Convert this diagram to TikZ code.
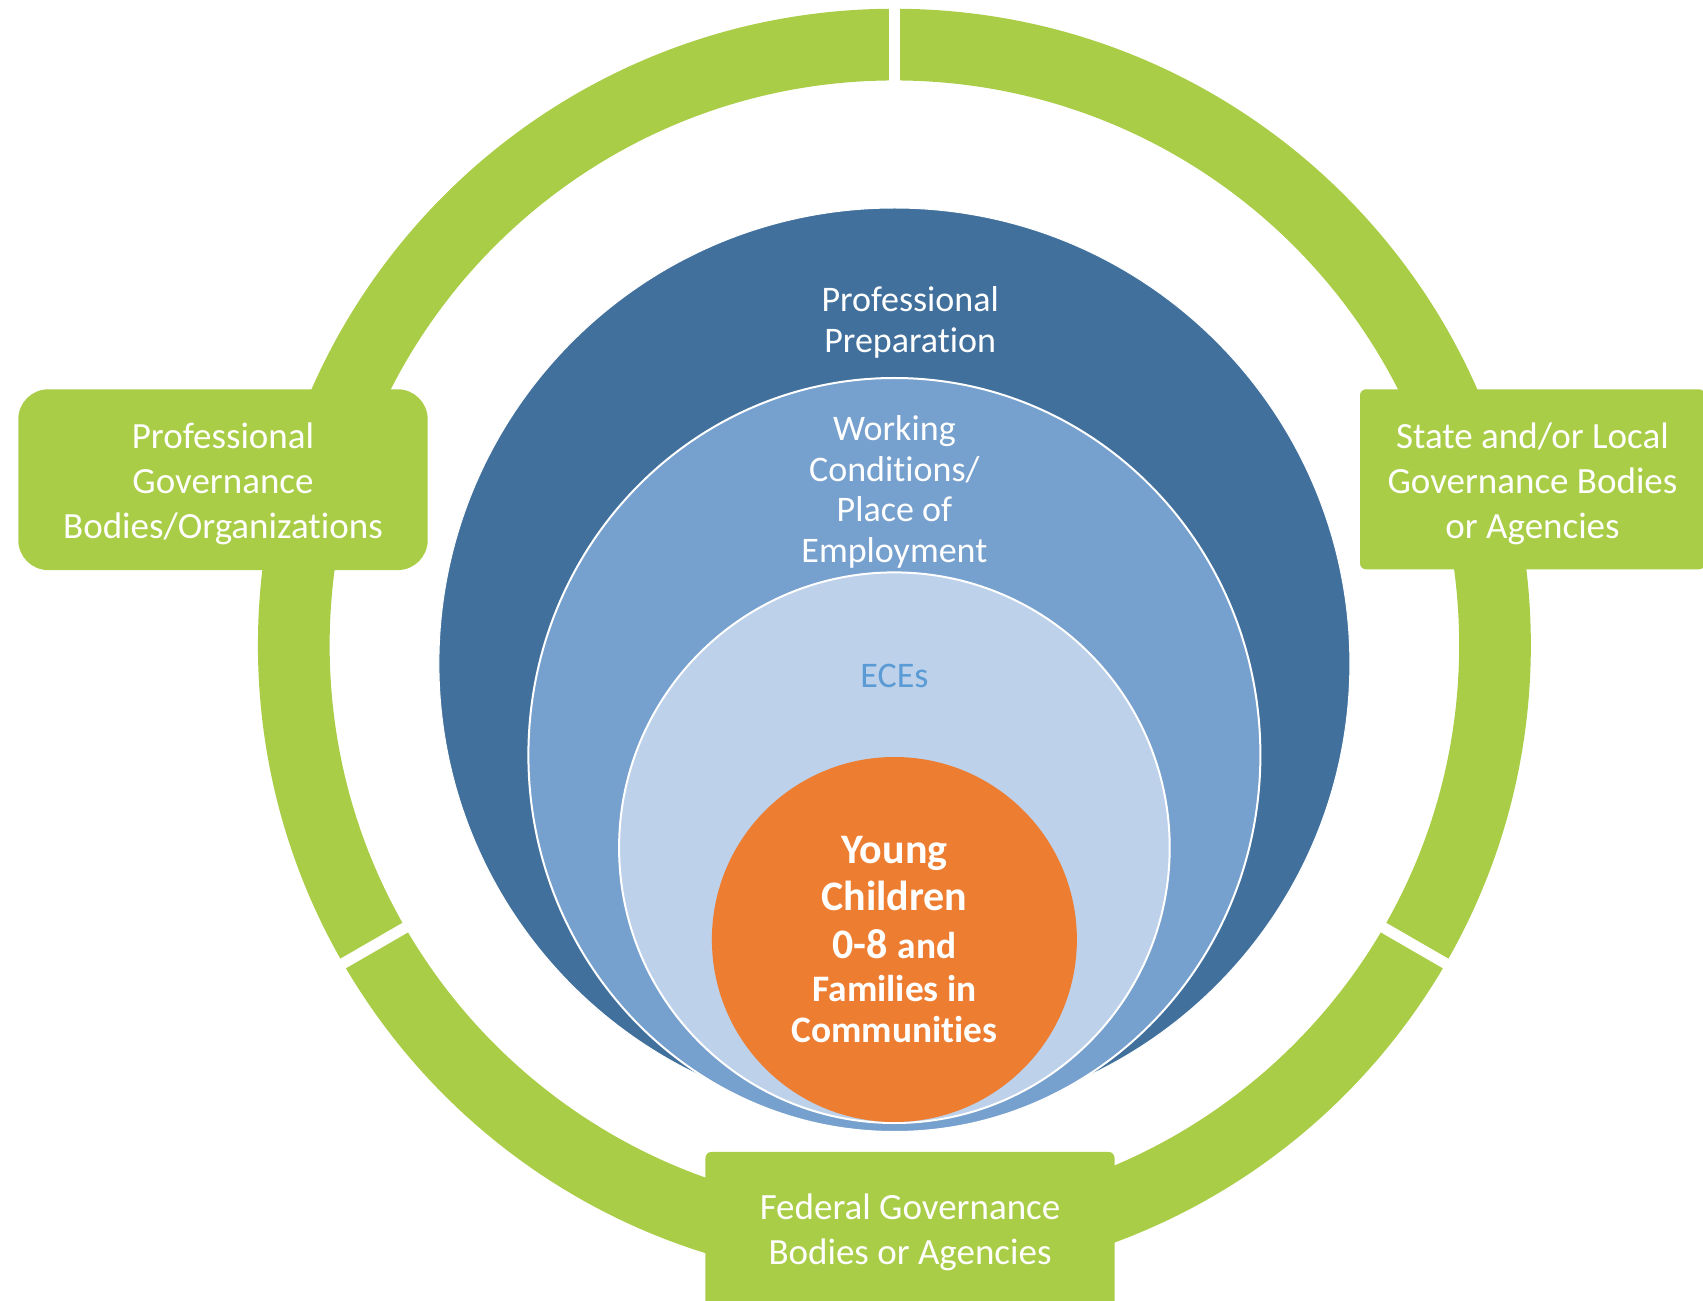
\documentclass[tikz,border=0pt]{standalone}
\usepackage{fontspec}
\setmainfont{Carlito}[Ligatures=NoCommon]
\usepackage{xcolor}
\usepackage{tikz}
\definecolor{lime}{HTML}{A9CD46}
\definecolor{navy}{HTML}{41709C}
\definecolor{midblue}{HTML}{76A0CD}
\definecolor{paleblue}{HTML}{BDD1EA}
\definecolor{tangerine}{HTML}{ED7D31}
\definecolor{ecetext}{HTML}{5B9BD5}
\tikzset{
  ring/.style={draw=lime, line width=35.85pt},
  gap/.style={draw=white, line width=5.5pt},
  layer/.style={draw=white, line width=1pt},
  govbox/.style={fill=lime, text=white, align=center, inner sep=0pt, font=\fontsize{18.5}{22.5}\selectfont},
  lab/.style={text=white, align=center, font=\fontsize{18}{20.5}\selectfont},
}
\newcommand{\smallbold}{\fontsize{18.7}{20.1}\selectfont}

\begin{document}
\begin{tikzpicture}[x=0.5pt,y=0.5pt]
  \def\R{600.6}
  \useasboundingbox (-894.4,-655.8) rectangle (808.6,645.2);
  \clip (-894.4,-655.8) rectangle (808.6,645.2);
  % outer ring, cut in three
  \draw[ring] (0,0) circle (\R);
  \foreach \a in {90,210,330}
    \draw[gap] (\a:540) -- (\a:660);
  % nested layers
  \filldraw[draw=white, line width=0.5pt, fill=navy] (0,-18.3) circle (455.5);
  \filldraw[layer, fill=midblue] (0,-109.8) ellipse (366 and 377);
  \filldraw[layer, fill=paleblue] (0,-202.5) circle (275.3);
  \fill[tangerine] (0,-294.3) circle (182.5);
  % governance boxes
  \node[govbox, minimum width=204.7pt, minimum height=90.4pt, rounded corners=15pt] (profgov) at (-671.4,165.5) {};
  \node[govbox, minimum width=172.5pt, minimum height=90pt, rounded corners=3pt] (stategov) at (638.1,165.9) {};
  \node[govbox, minimum width=204.5pt, minimum height=78pt, rounded corners=3pt] (fedgov) at (15.6,-584.7) {};
  \node[govbox, fill=none] (proftxt) at ([yshift=-2.2pt]profgov.center) {Professional\\Governance\\Bodies/Organizations};
  \node[govbox, fill=none] (statetxt) at ([yshift=-2.4pt]stategov.center) {State and/or Local\\Governance Bodies\\or Agencies};
  \node[govbox, fill=none, font=\fontsize{18.5}{22.25}\selectfont] (fedtxt) at ([yshift=-1.3pt]fedgov.center) {Federal Governance\\Bodies or Agencies};
  % layer labels
  \node[lab] (prep) at (15.8,323.2) {Professional\\Preparation};
  \node[lab, font=\fontsize{18}{20.4}\selectfont] (work) at (0,153.2) {Working\\Conditions/\\Place of\\Employment};
  \node[lab, text=ecetext] (eces) at (0,-30.4) {ECEs};
  \node[lab, font=\bfseries\fontsize{21}{20.1}\selectfont] (kids) at (0,-294.3) {Young\\[3.3pt]Children\\[3.8pt]0-8 {\smallbold and}\\[1.6pt]\smallbold Families in\\\smallbold Communities};
\end{tikzpicture}
\end{document}
